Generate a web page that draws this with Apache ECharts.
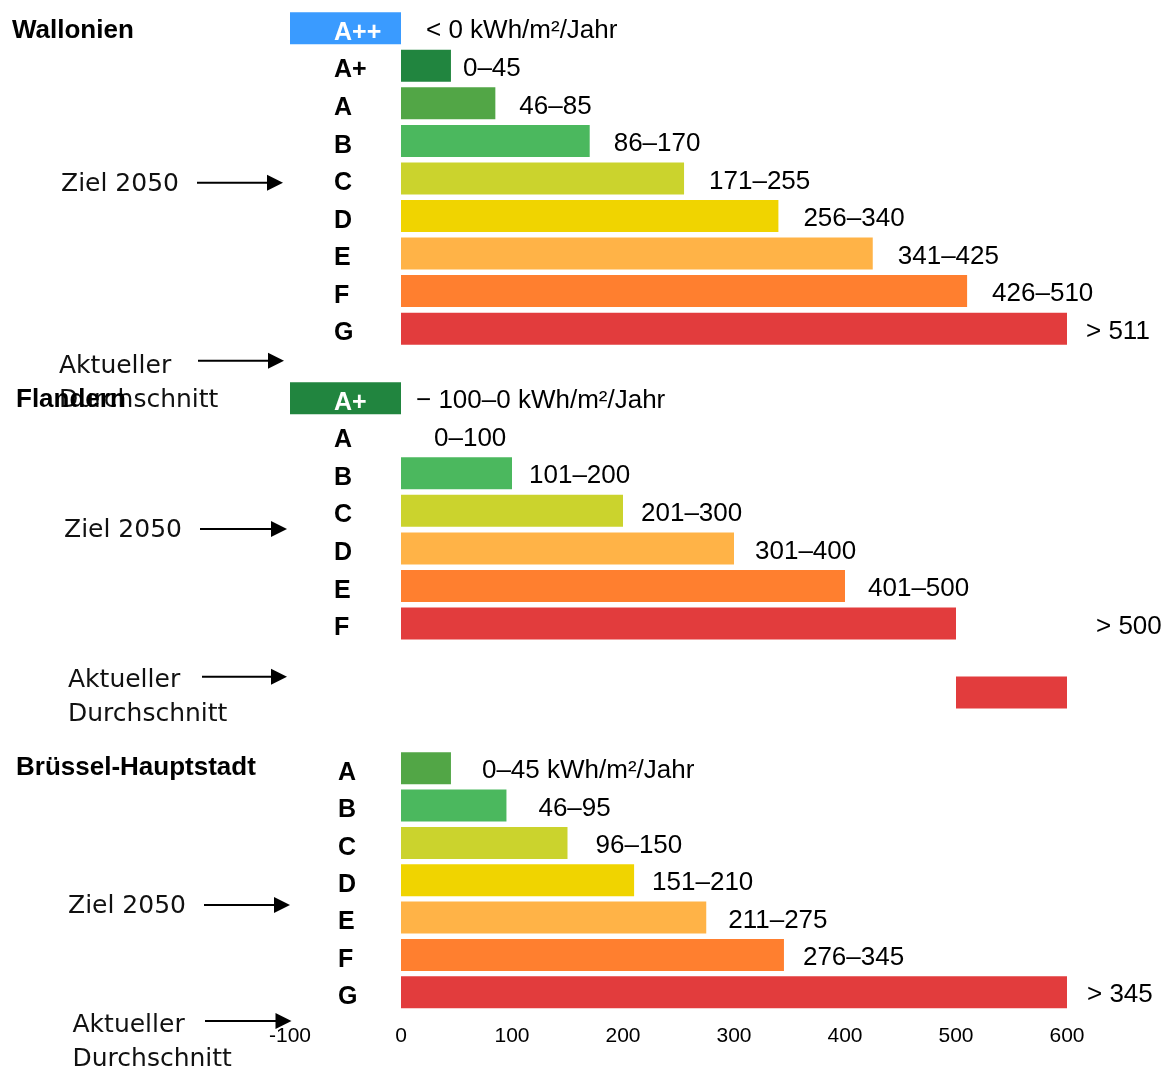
<!DOCTYPE html>
<html>
<head>
<meta charset="utf-8">
<script src="https://cdn.jsdelivr.net/npm/echarts@6/dist/echarts.min.js"></script>
<style>
  html, body { margin: 0; padding: 0; background: #ffffff; }
  #chart { width: 1171px; height: 1067px; }
</style>
</head>
<body>
<div id="chart"></div>
<script>
// Energieklassen je Region, Obergrenze in kWh/m²/Jahr
const wallonienClasses = ['A++', 'A+', 'A', 'B', 'C', 'D', 'E', 'F', 'G'];
const wallonienValues  = [-100, 45, 85, 170, 255, 340, 425, 510, 600];
const wallonienLabels  = ['< 0 kWh/m²/Jahr', '0–45', '46–85', '86–170', '171–255', '256–340', '341–425', '426–510', '> 511'];

const flandernClasses = ['A+', 'A', 'B', 'C', 'D', 'E', 'F'];
const flandernValues  = [-100, 0, 100, 200, 300, 400, 500];
const flandernLabels  = ['− 100–0 kWh/m²/Jahr', '0–100', '101–200', '201–300', '301–400', '401–500', '> 500'];
const flandernAverage = [500, 600];   // Aktueller Durchschnitt: von, bis

const bruesselClasses = ['A', 'B', 'C', 'D', 'E', 'F', 'G'];
const bruesselValues  = [45, 95, 150, 210, 275, 345, 600];
const bruesselLabels  = ['0–45 kWh/m²/Jahr', '46–95', '96–150', '151–210', '211–275', '276–345', '> 345'];

const axisTicks = [-100, 0, 100, 200, 300, 400, 500, 600];

// ---- styling ----
const LABEL_FONT = 'Liberation Sans, Arial, sans-serif';
const NOTE_FONT = 'DejaVu Sans, sans-serif';
const BAR_WIDTH = 32;

const wallonienColors = ['#3a9bff', '#21853f', '#52a646', '#4bb85e', '#cbd32d', '#f0d400', '#ffb347', '#ff7f2f', '#e23c3d'];
const flandernColors  = ['#21853f', '#52a646', '#4bb85e', '#cbd32d', '#ffb347', '#ff7f2f', '#e23c3d'];
const bruesselColors  = ['#52a646', '#4bb85e', '#cbd32d', '#f0d400', '#ffb347', '#ff7f2f', '#e23c3d'];
const averageColor = '#e23c3d';

// gap between bar end and its range label (px)
const wallonienGaps = [25, 12, 24, 24, 25, 25, 25, 25, 19];
const flandernGaps  = [15, 33, 17, 18, 21, 23, 140];
const bruesselGaps  = [31, 32, 28, 18, 22, 19, 20];

// class letters drawn in white where they sit on a bar
const whiteClassLabels = { 0: ['A++'], 1: ['A+'] };

const xMin = axisTicks[0];
const xMax = axisTicks[axisTicks.length - 1];
const xStep = axisTicks[1] - axisTicks[0];

const grids = [
  { left: 290, right: 104, top: 9.5, height: 337.9 },     // Wallonien
  { left: 290, right: 104, top: 379.4, height: 262.85 },  // Flandern
  { left: 290, right: 104, top: 673.75, height: 37.5 },   // Flandern, Durchschnitt
  { left: 290, right: 104, top: 749.5, height: 261.45 }   // Brüssel
];

function xAxisFor(gridIndex, showLabels) {
  return {
    type: 'value', gridIndex: gridIndex,
    min: xMin, max: xMax, interval: xStep,
    axisLine: { show: false }, axisTick: { show: false }, splitLine: { show: false },
    axisLabel: {
      show: showLabels, margin: 15, color: '#000', fontSize: 21, fontFamily: LABEL_FONT,
      showMinLabel: true, showMaxLabel: true
    }
  };
}

function yAxisFor(gridIndex, classes, margin) {
  const white = whiteClassLabels[gridIndex] || [];
  return {
    type: 'category', gridIndex: gridIndex, inverse: true, data: classes, z: 10,
    axisLine: { show: false }, axisTick: { show: false }, splitLine: { show: false },
    axisLabel: {
      show: classes.length > 1, inside: true, margin: margin,
      fontSize: 25, fontWeight: 'bold', fontFamily: LABEL_FONT,
      // letters sit slightly below the row centre
      verticalAlign: 'top', lineHeight: 9.5,
      color: function (value) { return white.indexOf(value) >= 0 ? '#ffffff' : '#000000'; }
    }
  };
}

function regionSeries(gridIndex, values, labels, colors, gaps) {
  return {
    type: 'bar', xAxisIndex: gridIndex, yAxisIndex: gridIndex,
    barWidth: BAR_WIDTH, silent: true,
    data: values.map(function (v, i) {
      return {
        value: v,
        itemStyle: { color: colors[i] },
        label: { distance: gaps[i], formatter: labels[i] }
      };
    }),
    label: {
      show: true, position: 'right', offset: [0, 3],
      color: '#000', fontSize: 26, fontFamily: LABEL_FONT
    }
  };
}

function arrow(x1, x2, y) {
  return {
    type: 'group', children: [
      { type: 'line', shape: { x1: x1, y1: y, x2: x2 - 12, y2: y }, style: { stroke: '#000', lineWidth: 2 } },
      { type: 'polygon', shape: { points: [[x2 - 16, y - 8], [x2, y], [x2 - 16, y + 8]] }, style: { fill: '#000' } }
    ]
  };
}

function note(text, x, y) {
  return {
    type: 'text', x: x, y: y,
    style: { text: text, fill: '#111', font: '25px ' + NOTE_FONT, textVerticalAlign: 'middle', lineHeight: 34.6 }
  };
}

function title(text, x, y) {
  return {
    type: 'text', x: x, y: y,
    style: { text: text, fill: '#000', font: 'bold 26px ' + LABEL_FONT, textVerticalAlign: 'middle' }
  };
}

const option = {
  backgroundColor: '#ffffff',
  animation: false,
  grid: grids,
  xAxis: [xAxisFor(0, false), xAxisFor(1, false), xAxisFor(2, false), xAxisFor(3, true)],
  yAxis: [
    yAxisFor(0, wallonienClasses, 44),
    yAxisFor(1, flandernClasses, 44),
    yAxisFor(2, [''], 44),
    yAxisFor(3, bruesselClasses, 48)
  ],
  series: [
    regionSeries(0, wallonienValues, wallonienLabels, wallonienColors, wallonienGaps),
    regionSeries(1, flandernValues, flandernLabels, flandernColors, flandernGaps),
    {
      type: 'bar', xAxisIndex: 2, yAxisIndex: 2, stack: 'avg', barWidth: BAR_WIDTH, silent: true,
      itemStyle: { color: 'transparent' },
      data: [flandernAverage[0]]
    },
    {
      type: 'bar', xAxisIndex: 2, yAxisIndex: 2, stack: 'avg', barWidth: BAR_WIDTH, silent: true,
      itemStyle: { color: averageColor },
      data: [flandernAverage[1] - flandernAverage[0]]
    },
    regionSeries(3, bruesselValues, bruesselLabels, bruesselColors, bruesselGaps)
  ],
  graphic: [
    title('Wallonien', 12, 31),
    note('Ziel 2050', 61, 184.5),
    arrow(197, 283, 182.7),
    note('Aktueller\nDurchschnitt', 59, 383.5),
    arrow(198, 284, 360.7),

    title('Flandern', 16, 399.5),
    note('Ziel 2050', 64, 530),
    arrow(200, 287, 529),
    note('Aktueller\nDurchschnitt', 68, 697.5),
    arrow(202, 287, 676.7),

    title('Brüssel-Hauptstadt', 16, 768),
    note('Ziel 2050', 68, 906),
    arrow(204, 290, 905),
    note('Aktueller\nDurchschnitt', 72.5, 1042.3),
    arrow(205, 291.5, 1021)
  ]
};

const chart = echarts.init(document.getElementById('chart'), null, { renderer: 'canvas' });
chart.setOption(option);
</script>
</body>
</html>
